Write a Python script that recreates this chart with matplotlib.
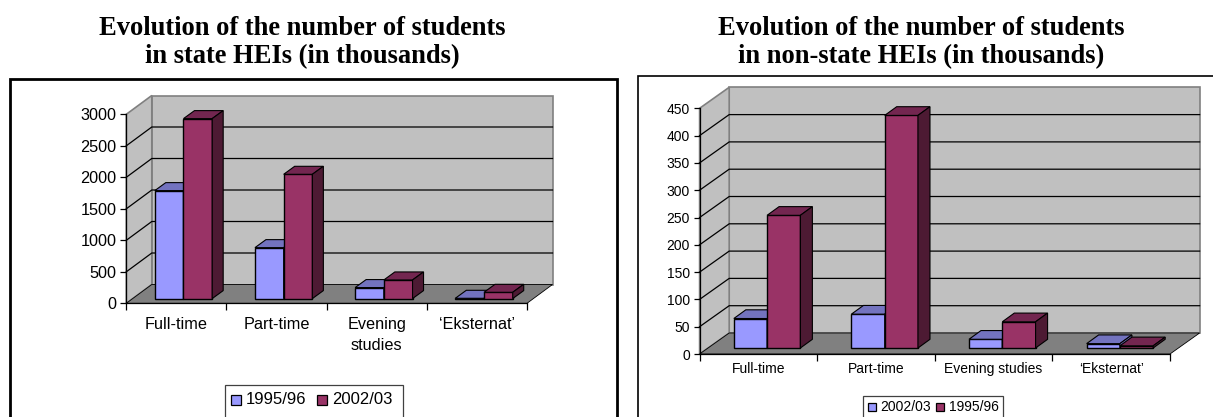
import matplotlib
matplotlib.use('Agg')
import matplotlib.pyplot as plt
from matplotlib.patches import Rectangle

W, H = 1213, 417

categories_left = ['Full-time', 'Part-time', 'Evening\nstudies', '\u2018Eksternat\u2019']
state_9596 = [1714, 809, 175, 5]
state_0203 = [2857, 1973, 296, 100]
yticks_left = [0, 500, 1000, 1500, 2000, 2500, 3000]

categories_right = ['Full-time', 'Part-time', 'Evening studies', '\u2018Eksternat\u2019']
nonstate_0203 = [54, 62, 16, 8]
nonstate_9596 = [243, 426, 48, 4]
yticks_right = [0, 50, 100, 150, 200, 250, 300, 350, 400, 450]

BLUE, BLUE_TOP = '#9999ff', '#7373bf'
RED, RED_TOP, RED_SIDE = '#993366', '#732650', '#4d1a33'
GREY_WALL, GREY_FLOOR, GREY_EDGE = '#c0c0c0', '#808080', '#808080'

plt.rcParams['font.family'] = 'Liberation Sans'

fig = plt.figure(figsize=(W / 100, H / 100), dpi=100)
bg = fig.add_axes([0, 0, 1, 1])
bg.set_xlim(0, W)
bg.set_ylim(H, 0)
bg.axis('off')


def chart(frame, frame_lw, box, depth, lift, bar_depth, bar_shift, bar_w, series, colors, cats, yticks,
          fs, label_pad, labels, leg_box, leg_pos, leg_size, leg_y, leg_fs):
    # frame: outer border, box: front plane of the 3D chart in pixels
    bg.add_patch(Rectangle((frame[0], frame[1]), frame[2] - frame[0], frame[3] - frame[1],
                           fc='white', ec='black', lw=frame_lw))
    x0, y0, x1, y1 = box
    ax = fig.add_axes([x0 / W, 1 - y0 / H, (x1 - x0) / W, (y0 - y1) / H])
    ax.patch.set_visible(False)
    ax.set_xlim(0, len(cats))
    ax.set_ylim(0, yticks[-1])
    for s in ['top', 'right']:
        ax.spines[s].set_visible(False)
    for s in ['left', 'bottom']:
        ax.spines[s].set_linewidth(0.9)
    ax.set_xticks(range(len(cats) + 1))
    ax.set_xticklabels([])
    ax.set_yticks(yticks)
    ax.tick_params(axis='y', labelsize=fs, length=4, width=0.9, pad=3)
    ax.tick_params(axis='x', length=5, width=0.9)

    # pixel sizes to data units
    ux = len(cats) / (x1 - x0)
    uy = yticks[-1] / (y0 - y1)
    dx, dy = depth[0] * ux, depth[1] * uy
    n = len(cats)
    top = yticks[-1]
    # back wall, side wall, floor
    ax.fill([dx, n + dx, n + dx, dx], [dy, dy, top + dy, top + dy], fc=GREY_WALL, ec=GREY_EDGE, lw=1.2, clip_on=False, zorder=0)
    ax.fill([0, dx, dx, 0], [0, dy, top + dy, top], fc=GREY_WALL, ec=GREY_EDGE, lw=1.2, clip_on=False, zorder=0)
    ax.fill([0, n, n + dx, dx], [0, 0, dy, dy], fc=GREY_FLOOR, ec='black', lw=0.6, clip_on=False, zorder=0.5)
    for t in yticks[1:-1]:
        ax.plot([0, dx, n + dx], [t, t + dy, t + dy], color='black', lw=0.9, clip_on=False, zorder=0.3)

    bw = bar_w
    bdx, bdy = bar_depth[0] * ux, bar_depth[1] * uy
    sx, ly = bar_shift * ux, lift * uy
    for j, (vals, (c, ct, cs)) in enumerate(zip(series, colors)):
        for i, v in enumerate(vals):
            left = i + 0.5 + sx + (j - 1) * bw
            base = ly
            ax.bar(left, v, bw, bottom=base, align='edge', fc=c, ec='black', lw=1.0, clip_on=False, zorder=2 + j)
            ax.fill([left, left + bw, left + bw + bdx, left + bdx],
                    [base + v, base + v, base + v + bdy, base + v + bdy],
                    fc=ct, ec='black', lw=0.8, clip_on=False, zorder=2 + j)
            ax.fill([left + bw, left + bw + bdx, left + bw + bdx, left + bw],
                    [base, base + bdy, base + v + bdy, base + v],
                    fc=cs, ec='black', lw=0.8, clip_on=False, zorder=2 + j)
    for i, c in enumerate(cats):
        ax.annotate(c, (i + 0.5, 0), xytext=(0, -label_pad), textcoords='offset points', ha='center',
                    va='top', fontsize=fs, linespacing=1.45, annotation_clip=False)

    # legend box
    lx0, ly0, lx1, ly1 = leg_box
    bg.add_patch(Rectangle((lx0, ly0), lx1 - lx0, ly1 - ly0, fc='white', ec='#404040', lw=0.9))
    for p, lab, (c, ct, cs) in zip(leg_pos, labels, colors):
        bg.add_patch(Rectangle((p, leg_y - leg_size / 2), leg_size, leg_size, fc=c, ec='black', lw=0.9))
        bg.text(p + leg_size + 5, leg_y, lab, fontsize=leg_fs, va='center', ha='left')


blue_set = (BLUE, BLUE_TOP, BLUE_TOP)
red_set = (RED, RED_TOP, RED_SIDE)

chart((10, 79, 617, 430), 2.0, (126.3, 303.3, 527, 114.3), (25.5, 18.8), 4.7, (11, 8), 7.1, 0.2865,
      [state_9596, state_0203], [blue_set, red_set], categories_left, yticks_left, 11.7, 10,
      ['1995/96', '2002/03'], (224.6, 385, 403, 430), (230.7, 316.7), 10, 400, 12)
chart((637.7, 76, 1225, 430), 1.2, (699.6, 354, 1170, 108.3), (29.6, 21), 6, (12, 8.7), 8.7, 0.283,
      [nonstate_0203, nonstate_9596], [blue_set, red_set], categories_right, yticks_right, 10, 6,
      ['2002/03', '1995/96'], (862.7, 395.7, 1003, 430), (867.7, 936), 8, 407, 10)

title_font = dict(family='Liberation Serif', fontweight='bold', fontsize=19.1, ha='center', va='center', linespacing=1.2)
bg.text(302.5, 42.5, 'Evolution of the number of students\nin state HEIs (in thousands)', **title_font)
bg.text(921.5, 42.5, 'Evolution of the number of students\nin non-state HEIs (in thousands)', **title_font)

fig.savefig('out.png', dpi=100)
